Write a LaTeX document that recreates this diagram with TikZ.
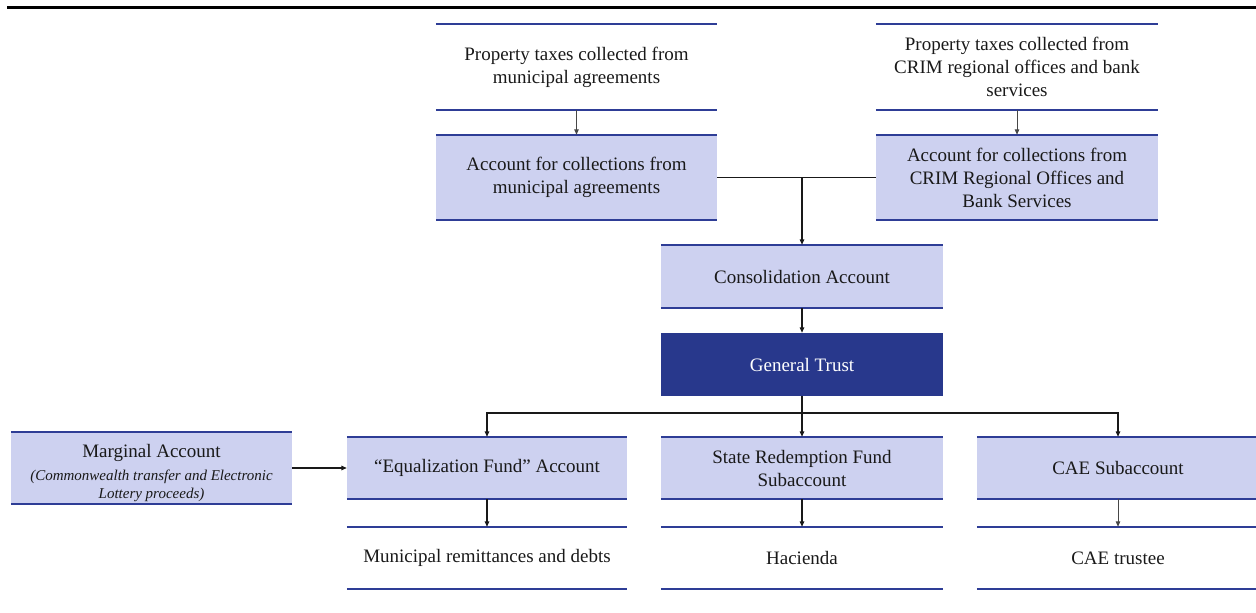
\documentclass[tikz,border=0pt]{standalone}
\usepackage{fontspec}
\setmainfont{Liberation Serif}
\usetikzlibrary{arrows.meta}
\definecolor{bandfill}{RGB}{205,209,240}
\definecolor{bandline}{RGB}{46,61,150}
\definecolor{trustfill}{RGB}{40,56,140}
\definecolor{inkgray}{RGB}{25,25,25}
\newcommand\mgsmall{\fontsize{15}{18}\selectfont\itshape}
\tikzset{
  band/.style={rectangle, inner sep=0pt, align=center, text=inkgray,
    font=\fontsize{19}{23}\selectfont,
    append after command={
      (\tikzlastnode.north west) edge[bandedge] (\tikzlastnode.north east)
      (\tikzlastnode.south west) edge[bandedge] (\tikzlastnode.south east)}},
  bandedge/.style={draw=bandline, line width=1.7pt},
  filled/.style={band, fill=bandfill},
  plain/.style={band},
  trust/.style={rectangle, inner sep=0pt, align=center, fill=trustfill, text=white,
    font=\fontsize{19}{23}\selectfont},
  flow/.style={draw=inkgray, line width=1.3pt, -{Triangle[length=5.5pt,width=4.5pt]}},
  link/.style={draw=inkgray, line width=1.3pt},
  thinflow/.style={draw=inkgray!80, line width=1pt, -{Triangle[length=5.5pt,width=4.5pt]}}
}
\begin{document}
\begin{tikzpicture}[x=1pt,y=-1pt]
\useasboundingbox (0,0) rectangle (1256,613);
\draw[line width=2.5pt, black] (7,7.5) -- (1256,7.5);

\node[plain, minimum width=281pt, minimum height=86pt] (b1) at (576.5,67)
  {Property taxes collected from\\municipal agreements};
\node[filled, minimum width=281pt, minimum height=85pt] (b2) at (576.5,177.5)
  {Account for collections from\\municipal agreements};
\node[plain, minimum width=282pt, minimum height=86pt] (b3) at (1017,67)
  {Property taxes collected from\\CRIM regional offices and bank\\services};
\node[filled, minimum width=282pt, minimum height=85pt] (b4) at (1017,177.5)
  {Account for collections from\\CRIM Regional Offices and\\Bank Services};
\node[filled, minimum width=282pt, minimum height=63pt] (cons) at (802,276.5)
  {Consolidation Account};
\node[trust, minimum width=282pt, minimum height=63pt] (gt) at (802,364.5)
  {General Trust};
\node[filled, minimum width=281pt, minimum height=72pt] (marg) at (151.5,468)
  {\rule{0pt}{23pt}Marginal Account\\[0pt]\mgsmall (Commonwealth transfer and Electronic\\[-5pt]\mgsmall Lottery proceeds)};
\node[filled, minimum width=280pt, minimum height=62pt] (eq) at (487,468)
  {“Equalization Fund” Account};
\node[filled, minimum width=282pt, minimum height=62pt] (sr) at (802,468)
  {State Redemption Fund\\Subaccount};
\node[filled, minimum width=282pt, minimum height=62pt] (cae) at (1118,468)
  {CAE Subaccount};
\node[plain, minimum width=280pt, minimum height=62pt] (mun) at (487,558)
  {Municipal remittances and debts};
\node[plain, minimum width=282pt, minimum height=62pt] (hac) at (802,558)
  {Hacienda};
\node[plain, minimum width=282pt, minimum height=62pt] (caet) at (1118,558)
  {CAE trustee};

\coordinate (j1) at (802,177.5);
\coordinate (j2) at (802,413);

\draw[thinflow] (b1) -- (b2);
\draw[thinflow] (b3) -- (b4);
\draw[link] (b2.east) -- (j1);
\draw[link] (b4.west) -- (j1);
\draw[flow] (j1) -- (cons.north);
\draw[flow] (cons) -- (gt);
\draw[link] (gt.south) -- (j2);
\draw[flow] (j2) -| (eq.north);
\draw[flow] (j2) -- (sr.north);
\draw[flow] (j2) -| (cae.north);
\draw[flow] (marg.east) -- (eq.west);
\draw[flow] (eq) -- (mun);
\draw[flow] (sr) -- (hac);
\draw[thinflow] (cae) -- (caet);
\end{tikzpicture}
\end{document}
